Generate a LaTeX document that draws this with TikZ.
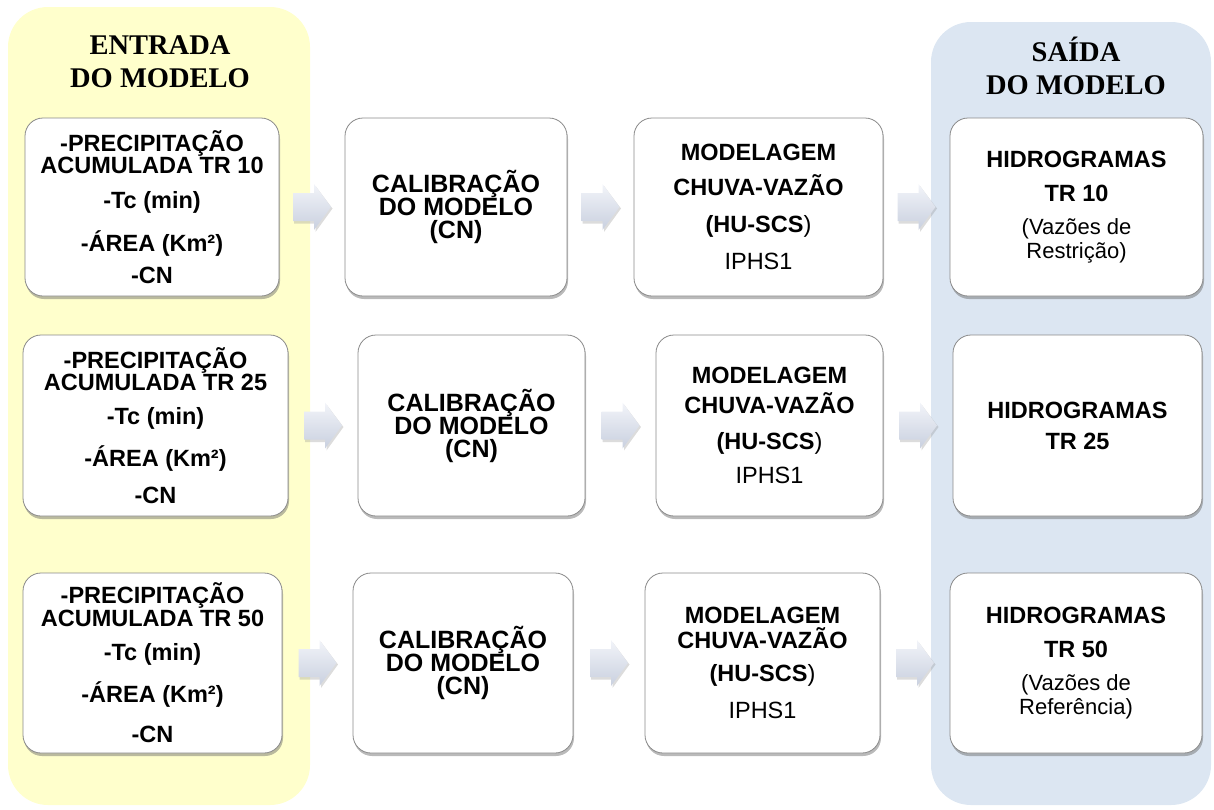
\documentclass[tikz,border=0pt]{standalone}
\usepackage{fontspec}
\setmainfont{Liberation Sans}
\newfontfamily\timesf{Liberation Serif}
\usetikzlibrary{shadows,calc}
\definecolor{panelY}{HTML}{FFFFCC}
\definecolor{panelB}{HTML}{DCE6F2}
\definecolor{boxline}{HTML}{8A8A8A}
\definecolor{arrtop}{HTML}{F2F4F9}
\definecolor{arrbot}{HTML}{C9D0DF}
\begin{document}
\begin{tikzpicture}[x=1pt,y=-1pt,
  box/.style={draw=boxline, line width=0.8pt, fill=white, rounded corners=18pt,
    align=center, inner sep=0pt,
    font=\fontsize{23.5}{20}\selectfont\bfseries,
    drop shadow={shadow xshift=1pt, shadow yshift=-3pt, fill=black!60, opacity=0.45}},
  rowA/.style={box, minimum height=178pt},
  rowB/.style={box, minimum height=181pt},
  rowC/.style={box, minimum height=180pt},
  calfont/.style={font=\fontsize{25}{23}\selectfont\bfseries},
  title/.style={font=\timesf\bfseries\fontsize{28.5}{33}\selectfont, align=center, inner sep=0pt},
  blockarr/.pic={
    \fill[black!45, opacity=0.3] (-18,-12.5) -- (3.5,-12.5) -- (3.5,-21) -- (20.5,1.5) -- (3.5,25) -- (3.5,16.5) -- (-18,16.5) -- cycle;
    \shade[top color=arrtop, bottom color=arrbot] (-19,-14) -- (2,-14) -- (2,-23) -- (19,0) -- (2,23) -- (2,14) -- (-19,14) -- cycle;
  }
]
\useasboundingbox (0,0) rectangle (1214,809);
% panels
\fill[panelY, rounded corners=40pt] (8,7) rectangle (310,805);
\fill[panelB, rounded corners=40pt] (931,22) rectangle (1211,805);
% titles
\node[title] (tin) at (160,62) {ENTRADA\\DO MODELO};
\node[title] (tout) at (1076,66) {SAÍDA\\DO MODELO};

% row 1
\node[rowA, minimum width=254pt] (a1) at (152,207)
  {-PRECIPITAÇÃO\\ACUMULADA TR 10\\[15pt]-Tc (min)\\[16pt]-ÁREA (Km²)\\[10pt]-CN};
\node[rowA, minimum width=222pt, calfont] (b1) at (456,207)
  {CALIBRAÇÃO\\DO MODELO\\(CN)};
\node[rowA, minimum width=249pt] (c1) at (758.5,207)
  {MODELAGEM\\[12pt]CHUVA-VAZÃO\\[17pt](HU-SCS{\mdseries )}\\[15pt]{\mdseries IPHS1}};
\node[rowA, minimum width=253pt] (d1) at (1076.5,207)
  {HIDROGRAMAS\\[14pt]TR 10\\[13pt]{\mdseries\fontsize{22}{20}\selectfont (Vazões de}\\[2pt]{\mdseries\fontsize{22}{20}\selectfont Restrição)}};

% row 2
\node[rowB, minimum width=265pt] (a2) at (155.5,425.5)
  {-PRECIPITAÇÃO\\ACUMULADA TR 25\\[14pt]-Tc (min)\\[15pt]-ÁREA (Km²)\\[15pt]-CN};
\node[rowB, minimum width=227pt, calfont] (b2) at (471.5,425.5)
  {CALIBRAÇÃO\\DO MODELO\\(CN)};
\node[rowB, minimum width=227pt] (c2) at (769.5,425.5)
  {MODELAGEM\\[7pt]CHUVA-VAZÃO\\[16pt](HU-SCS{\mdseries )}\\[12pt]{\mdseries IPHS1}};
\node[rowB, minimum width=249pt] (d2) at (1077.5,425.5)
  {HIDROGRAMAS\\[11pt]TR 25};

% row 3
\node[rowC, minimum width=259pt] (a3) at (152.5,663)
  {-PRECIPITAÇÃO\\ACUMULADA TR 50\\[14pt]-Tc (min)\\[16pt]-ÁREA (Km²)\\[18pt]-CN};
\node[rowC, minimum width=220pt, calfont] (b3) at (463,663)
  {CALIBRAÇÃO\\DO MODELO\\(CN)};
\node[rowC, minimum width=235pt] (c3) at (762.5,663)
  {MODELAGEM\\[2pt]CHUVA-VAZÃO\\[13pt](HU-SCS{\mdseries )}\\[15pt]{\mdseries IPHS1}};
\node[rowC, minimum width=252pt] (d3) at (1076,663)
  {HIDROGRAMAS\\[14pt]TR 50\\[13pt]{\mdseries\fontsize{22}{20}\selectfont (Vazões de}\\[2pt]{\mdseries\fontsize{22}{20}\selectfont Referência)}};

% connectors (block arrows centred in the gaps)
\foreach \r in {1,2,3}{
  \coordinate (gab\r) at ($(a\r.east)!0.5!(b\r.west)$);
  \coordinate (gbc\r) at ($(b\r.east)!0.5!(c\r.west)$);
  \coordinate (gcd\r) at ($(c\r.east)!0.5!(d\r.west)$);
  \pic at (gab\r) {blockarr};
  \pic at (gbc\r) {blockarr};
  \pic at (gcd\r) {blockarr};
}
\end{tikzpicture}
\end{document}
